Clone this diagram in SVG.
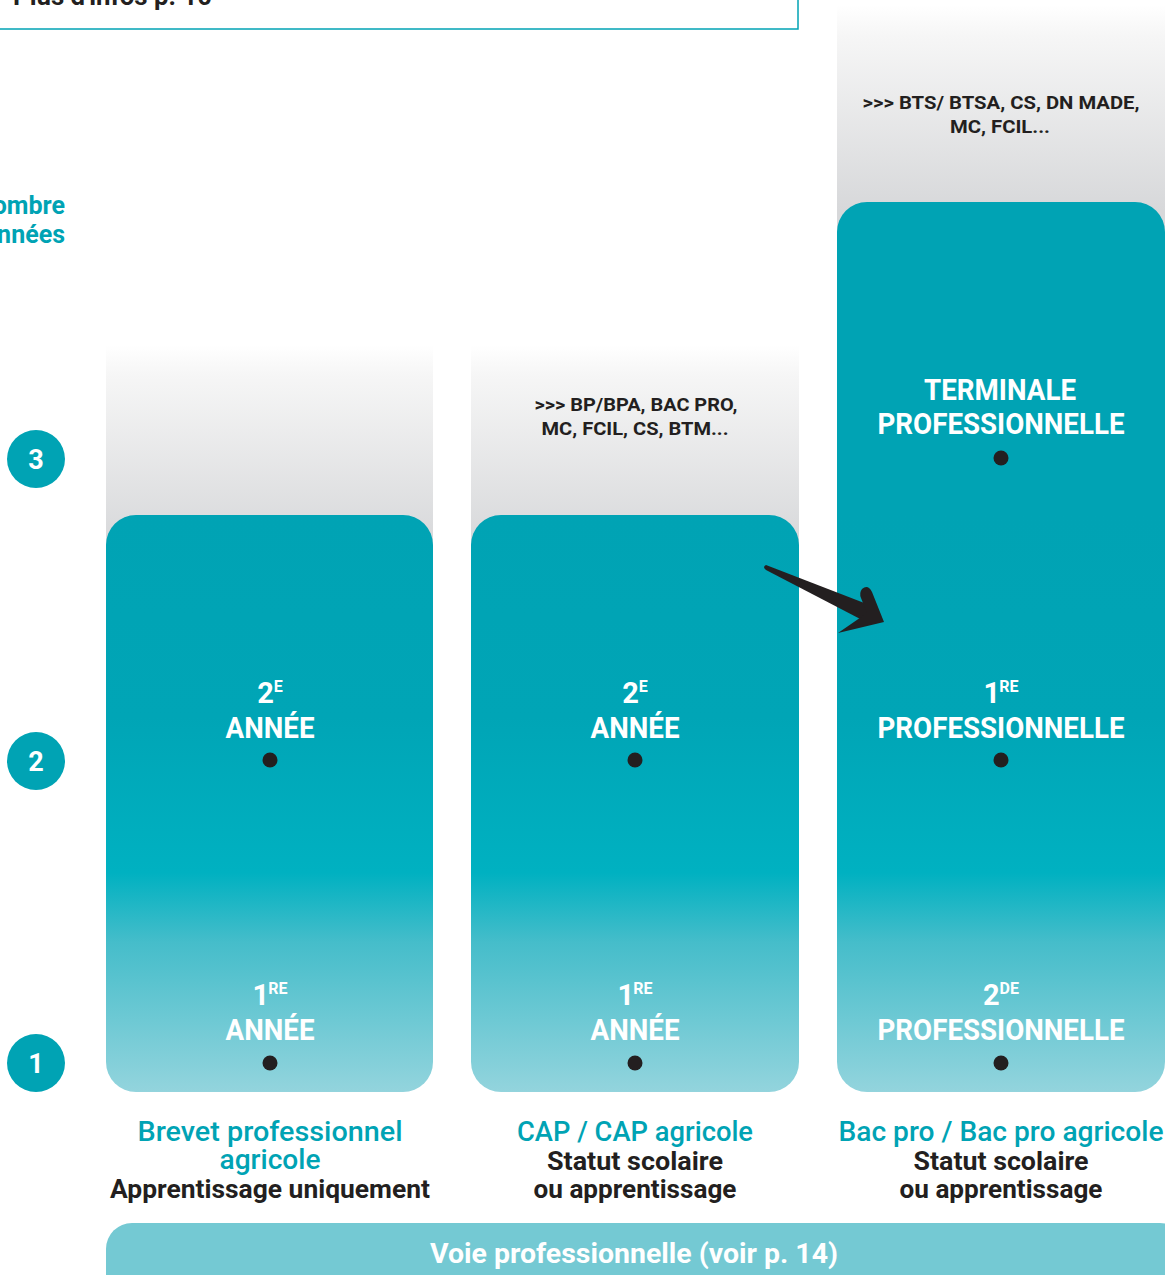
<svg xmlns="http://www.w3.org/2000/svg" width="1165" height="1275" viewBox="0 0 1165 1275">
<defs>
<linearGradient id="teal" gradientUnits="userSpaceOnUse" x1="0" y1="515" x2="0" y2="1092">
<stop offset="0" stop-color="#00a3b4"/>
<stop offset="0.35" stop-color="#00a5b6"/>
<stop offset="0.62" stop-color="#00b1c1"/>
<stop offset="0.74" stop-color="#45bdca"/>
<stop offset="1" stop-color="#93d4dd"/>
</linearGradient>
<linearGradient id="gray" x1="0" y1="0" x2="0" y2="1">
<stop offset="0" stop-color="#ffffff"/>
<stop offset="0.15" stop-color="#f6f6f6"/>
<stop offset="1" stop-color="#d7d8da"/>
</linearGradient>
<linearGradient id="gray3" gradientUnits="userSpaceOnUse" x1="0" y1="5" x2="0" y2="210">
<stop offset="0" stop-color="#ffffff"/>
<stop offset="0.15" stop-color="#f6f6f6"/>
<stop offset="1" stop-color="#d7d8da"/>
</linearGradient>
</defs>
<style>
text{font-family:Roboto,"Liberation Sans",sans-serif;font-weight:700;text-anchor:middle}
.lvl{fill:#ffffff;font-size:29px}
.sup{font-size:16px}
.dot{fill:#231f20}
.gtx{fill:#231f20;font-size:19px}
.ttl{fill:#00a3b4;font-size:28px;font-weight:500}
.sub{fill:#231f20;font-size:25px}
.num{fill:#00a3b4}
</style>

<g id="infobox">
<rect x="-2" y="-10" width="800" height="39" fill="#ffffff" stroke="#00a3b4" stroke-width="1.5"/>
<text x="13" y="5" style="text-anchor:start;font-size:26px;fill:#231f20" textLength="199" lengthAdjust="spacingAndGlyphs">Plus d'infos p. 10</text>
</g>

<g id="axis-title">
<text x="65" y="214" style="text-anchor:end;font-size:25px;fill:#00a3b4">Nombre</text>
<text x="65" y="243" style="text-anchor:end;font-size:25px;fill:#00a3b4">d'années</text>
</g>

<g id="year-3">
<circle class="num" cx="36" cy="459" r="29"/>
<text x="36" y="469" style="fill:#fff;font-size:27px">3</text>
</g>
<g id="year-2">
<circle class="num" cx="36" cy="761" r="29"/>
<text x="36" y="771" style="fill:#fff;font-size:27px">2</text>
</g>
<g id="year-1">
<circle class="num" cx="36" cy="1063" r="29"/>
<text x="36" y="1073" style="fill:#fff;font-size:27px">1</text>
</g>

<g id="col-bp">
<rect x="106" y="345" width="327" height="200" fill="url(#gray)"/>
<rect x="106" y="515" width="327" height="577" rx="30" fill="url(#teal)"/>
<text class="lvl" x="270" y="703">2<tspan class="sup" dy="-11">E</tspan></text>
<text class="lvl" x="270" y="738" textLength="89" lengthAdjust="spacingAndGlyphs">ANNÉE</text>
<circle class="dot" cx="270" cy="760" r="7.5"/>
<text class="lvl" x="270" y="1005">1<tspan class="sup" dx="-1" dy="-11">RE</tspan></text>
<text class="lvl" x="270" y="1040" textLength="89" lengthAdjust="spacingAndGlyphs">ANNÉE</text>
<circle class="dot" cx="270" cy="1063" r="7.5"/>
<text class="ttl" x="270" y="1141" textLength="265" lengthAdjust="spacingAndGlyphs">Brevet professionnel</text>
<text class="ttl" x="270" y="1169" textLength="101" lengthAdjust="spacingAndGlyphs">agricole</text>
<text class="sub" x="270" y="1198" textLength="320" lengthAdjust="spacingAndGlyphs">Apprentissage uniquement</text>
</g>

<g id="col-cap">
<rect x="471" y="345" width="328" height="200" fill="url(#gray)"/>
<text class="gtx" x="636" y="411" textLength="203" lengthAdjust="spacingAndGlyphs">&gt;&gt;&gt; BP/BPA, BAC PRO,</text>
<text class="gtx" x="635" y="435" textLength="187" lengthAdjust="spacingAndGlyphs">MC, FCIL, CS, BTM...</text>
<rect x="471" y="515" width="328" height="577" rx="30" fill="url(#teal)"/>
<text class="lvl" x="635" y="703">2<tspan class="sup" dy="-11">E</tspan></text>
<text class="lvl" x="635" y="738" textLength="89" lengthAdjust="spacingAndGlyphs">ANNÉE</text>
<circle class="dot" cx="635" cy="760" r="7.5"/>
<text class="lvl" x="635" y="1005">1<tspan class="sup" dx="-1" dy="-11">RE</tspan></text>
<text class="lvl" x="635" y="1040" textLength="89" lengthAdjust="spacingAndGlyphs">ANNÉE</text>
<circle class="dot" cx="635" cy="1063" r="7.5"/>
<text class="ttl" x="635" y="1141" textLength="236" lengthAdjust="spacingAndGlyphs">CAP / CAP agricole</text>
<text class="sub" x="635" y="1170" textLength="176" lengthAdjust="spacingAndGlyphs">Statut scolaire</text>
<text class="sub" x="635" y="1198" textLength="203" lengthAdjust="spacingAndGlyphs">ou apprentissage</text>
</g>

<g id="col-bacpro">
<rect x="837" y="5" width="328" height="405" fill="url(#gray3)"/>
<text class="gtx" x="1001" y="109" textLength="277" lengthAdjust="spacingAndGlyphs">&gt;&gt;&gt; BTS/ BTSA, CS, DN MADE,</text>
<text class="gtx" x="1000" y="133" textLength="100" lengthAdjust="spacingAndGlyphs">MC, FCIL...</text>
<rect x="837" y="202" width="328" height="890" rx="30" fill="url(#teal)"/>
<text class="lvl" x="1000" y="400" textLength="152" lengthAdjust="spacingAndGlyphs">TERMINALE</text>
<text class="lvl" x="1001" y="434" textLength="247" lengthAdjust="spacingAndGlyphs">PROFESSIONNELLE</text>
<circle class="dot" cx="1001" cy="458" r="7.5"/>
<text class="lvl" x="1001" y="703">1<tspan class="sup" dx="-1" dy="-11">RE</tspan></text>
<text class="lvl" x="1001" y="738" textLength="247" lengthAdjust="spacingAndGlyphs">PROFESSIONNELLE</text>
<circle class="dot" cx="1001" cy="760" r="7.5"/>
<text class="lvl" x="1001" y="1005">2<tspan class="sup" dy="-11">DE</tspan></text>
<text class="lvl" x="1001" y="1040" textLength="247" lengthAdjust="spacingAndGlyphs">PROFESSIONNELLE</text>
<circle class="dot" cx="1001" cy="1063" r="7.5"/>
<text class="ttl" x="1001" y="1141" textLength="325" lengthAdjust="spacingAndGlyphs">Bac pro / Bac pro agricole</text>
<text class="sub" x="1001" y="1170" textLength="175" lengthAdjust="spacingAndGlyphs">Statut scolaire</text>
<text class="sub" x="1001" y="1198" textLength="203" lengthAdjust="spacingAndGlyphs">ou apprentissage</text>
</g>

<g id="connectors">
<path d="M766,565 Q762,567 766,570 L866,622 L872,606 Z" fill="#231f20"/>
<path d="M884,622 L872,592 Q868,584 862,589 Q859,593 861,598 L867,613 L838,633 Z" fill="#231f20"/>
</g>

<g id="footer">
<rect x="106" y="1223" width="1080" height="80" rx="26" fill="#74c9d3"/>
<text x="634" y="1263" style="fill:#fff;font-size:27px" textLength="408" lengthAdjust="spacingAndGlyphs">Voie professionnelle (voir p. 14)</text>
</g>
</svg>
